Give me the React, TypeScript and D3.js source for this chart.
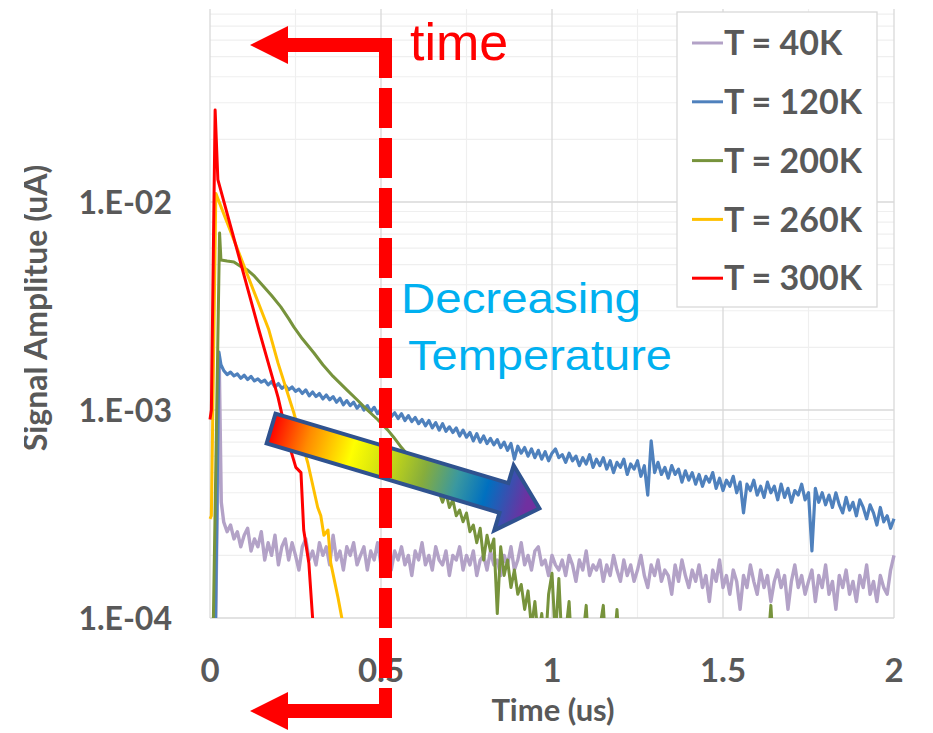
import React, { useEffect, useRef } from "react";
import * as d3 from "d3";

// all amplitudes below are in units of 1e-4 uA
const UNIT = 1e-4;

const seriesNames = ["T = 40K", "T = 120K", "T = 200K", "T = 260K", "T = 300K"];
const seriesColors = ["#b3a2c7", "#4f81bd", "#77933c", "#ffc000", "#ff0000"];

const xTicks = [0, 0.5, 1, 1.5, 2];
const xTickLabels = ["0", "0.5", "1", "1.5", "2"];
const yTicks = [1e-4, 1e-3, 1e-2];
const yTickLabels = ["1.E-04", "1.E-03", "1.E-02"];

// 40K / 120K: turn-on points, then samples every 0.01 us starting at 0.04 us
const sampleStart = 0.04;
const sampleStep = 0.01;

const t40Head = [0, 0.015, 0.027, 0.033];
const v40Head = [0.5, 0.6, 17, 3.6];
const v40 = [
  2.9, 2.6, 2.8, 2.4, 2.6, 2.2, 2.5, 2.7, 2.1, 2.4,
  2.2, 2.6, 1.9, 2.3, 2.0, 2.5, 1.8, 2.2, 2.4, 1.9,
  2.3, 2.0, 1.7, 2.2, 2.4, 1.9, 2.1, 1.8, 2.3, 2.0,
  2.2, 1.8, 2.5, 1.9, 2.1, 1.7, 2.2, 2.0, 2.3, 1.8,
  2.0, 2.2, 1.7, 2.1, 1.9, 2.3, 1.8, 2.0, 2.2, 1.7,
  2.1, 1.9, 2.2, 1.8, 2.0, 1.6, 2.1, 1.9, 2.3, 1.8,
  2.0, 1.7, 2.2, 1.9, 1.8, 2.1, 1.6, 2.0, 1.9, 2.2,
  1.7, 2.0, 1.8, 2.1, 1.6, 1.9, 2.0, 1.7, 2.1, 1.8,
  1.9, 1.6, 2.0, 1.8, 2.2, 1.7, 1.9, 2.3, 1.8, 2.0,
  1.7, 2.1, 2.2, 1.8, 1.9, 1.6, 2.0, 1.8, 1.7, 1.9,
  1.6, 2.0, 1.8, 1.5, 1.9, 1.7, 2.1, 1.6, 1.8, 1.7,
  1.9, 1.5, 1.8, 1.6, 2.0, 1.7, 1.5, 1.9, 1.6, 1.8,
  1.5, 1.7, 2.0, 1.6, 1.4, 1.8, 1.6, 1.9, 1.5, 1.7,
  1.6, 1.3, 1.8, 1.5, 1.9, 1.6, 1.4, 1.7, 1.5, 1.8,
  1.4, 1.6, 1.2, 1.7, 1.5, 1.9, 1.4, 1.6, 1.3, 1.7,
  1.5, 1.1, 1.6, 1.4, 1.8, 1.5, 1.3, 1.7, 1.4, 1.6,
  1.2, 1.5, 1.7, 1.4, 1.6, 1.1, 1.5, 1.8, 1.4, 1.6,
  1.3, 1.5, 1.7, 1.2, 1.6, 1.4, 1.8, 1.3, 1.5, 1.1,
  1.6, 1.4, 1.7, 1.3, 1.5, 1.2, 1.6, 1.4, 1.8, 1.3,
  1.5, 1.2, 1.6, 1.4, 1.3, 1.7, 2.0,
];

const t120Head = [0, 0.015, 0.026, 0.032];
const v120Head = [0.5, 0.7, 19, 16.5];
const v120 = [
  15.5, 14.8, 15.2, 14.6, 14.9, 14.2, 14.7, 14.0, 14.5, 13.8,
  14.1, 13.6, 13.9, 13.2, 13.7, 12.9, 13.4, 12.7, 13.1, 12.5,
  12.9, 12.3, 12.6, 12.0, 12.5, 11.7, 12.2, 11.6, 12.0, 11.3,
  11.8, 11.2, 11.6, 10.9, 11.4, 10.6, 11.1, 10.5, 10.9, 10.2,
  10.7, 10.0, 10.5, 9.8, 10.3, 9.6, 10.1, 9.5, 9.9, 9.3,
  9.7, 9.1, 9.6, 8.9, 9.4, 8.8, 9.2, 8.6, 9.0, 8.4,
  8.9, 8.2, 8.7, 8.0, 8.6, 7.9, 8.3, 7.8, 8.2, 7.5,
  8.0, 7.4, 7.8, 7.1, 7.7, 7.0, 7.5, 6.9, 7.3, 6.8,
  7.2, 6.6, 7.0, 6.4, 6.9, 5.8, 6.7, 6.2, 6.6, 6.0,
  6.5, 5.9, 6.4, 5.8, 6.3, 5.7, 6.2, 6.5, 5.9, 6.1,
  5.6, 6.2, 5.7, 6.0, 5.4, 5.9, 5.5, 6.1, 5.3, 5.8,
  5.4, 5.9, 5.2, 5.7, 5.0, 5.6, 5.3, 5.8, 4.9, 5.5,
  5.2, 5.7, 4.8, 5.4, 3.9, 7.1, 5.0, 5.6, 4.9, 5.3,
  4.7, 5.4, 4.9, 5.2, 4.5, 5.1, 4.6, 5.0, 4.4, 4.9,
  4.3, 4.8, 4.5, 5.0, 4.2, 4.7, 4.1, 4.6, 4.3, 4.8,
  4.0, 4.5, 3.2, 4.4, 4.1, 4.6, 3.9, 4.3, 3.8, 4.5,
  4.0, 4.3, 3.7, 4.4, 3.8, 4.2, 3.6, 4.1, 3.9, 4.4,
  3.7, 4.0, 2.1, 4.2, 3.6, 4.0, 3.5, 3.9, 3.4, 4.0,
  3.5, 3.2, 3.8, 3.3, 3.6, 3.1, 3.7, 3.4, 3.0, 3.5,
  3.2, 2.8, 3.4, 2.9, 3.1, 2.7, 3.0,
];

const t200 = [
  0, 0.006, 0.028, 0.032, 0.05, 0.07, 0.09, 0.11, 0.13, 0.158,
  0.18, 0.207, 0.23, 0.245, 0.27, 0.304, 0.33, 0.36, 0.4, 0.43,
  0.46, 0.49, 0.52, 0.537, 0.56, 0.6, 0.64, 0.67,
  0.68, 0.69, 0.7, 0.71, 0.72, 0.73, 0.74, 0.75, 0.76, 0.77,
  0.78, 0.79, 0.8, 0.81, 0.82, 0.83, 0.84, 0.85, 0.86, 0.87,
  0.88, 0.89, 0.9, 0.91, 0.92, 0.93, 0.94, 0.95, 0.96, 0.97,
  0.98, 0.99, 1.0, 1.01, 1.02, 1.03, 1.04, 1.05, 1.06, 1.07,
  1.08, 1.09, 1.1, 1.11, 1.12, 1.13, 1.14, 1.15, 1.16, 1.17,
  1.18, 1.19, 1.2,
  1.25, 1.35, 1.45, 1.55, 1.63, 1.64, 1.65, 1.8, 2.0,
];
const v200 = [
  0.3, 0.4, 71, 52.6, 52, 51.5, 49, 47.1, 44, 39,
  35.5, 31.3, 27.5, 25.1, 22, 18.8, 16.5, 14.5, 12.5, 11.2,
  10.0, 9.0, 8.0, 7.4, 6.6, 5.5, 4.6, 4.0,
  3.6, 4.0, 3.4, 3.7, 3.1, 3.3, 2.9, 3.2, 2.6, 2.8,
  2.3, 2.7, 1.9, 2.5, 2.1, 2.4, 1.05, 2.2, 1.6, 1.9,
  1.4, 1.7, 1.3, 1.45, 1.1, 1.35, 0.9, 1.2, 0.8, 1.05,
  0.7, 1.3, 1.64, 0.8, 1.55, 0.7, 0.85, 1.2, 0.6, 0.9,
  0.7, 0.8, 1.15, 0.6, 0.85, 0.7, 0.9, 1.15, 0.6, 0.8,
  0.7, 1.1, 0.6,
  0.65, 0.6, 0.65, 0.6, 0.7, 1.15, 0.6, 0.55, 0.5,
];

const t260 = [0, 0.004, 0.017, 0.172, 0.199, 0.245, 0.286, 0.315, 0.324, 0.333, 0.345, 0.353, 0.374, 0.388, 0.4];
const v260 = [3.0, 3.1, 110, 24.3, 16.8, 9.7, 5.56, 3.4, 3.1, 2.5, 2.65, 1.84, 1.26, 0.95, 0.8];

const t300 = [0, 0.004, 0.015, 0.023, 0.029, 0.143, 0.199, 0.228, 0.251, 0.266, 0.274, 0.289, 0.3, 0.31];
const v300 = [9.0, 10, 277, 128, 118, 24.3, 11.5, 7.1, 5.3, 5.0, 2.65, 1.84, 1.0, 0.7];

const FONT = "Lato, 'Open Sans', sans-serif";
const TEXT = "#595959";

function tail(head: number[], headV: number[], vals: number[]): [number, number][] {
  const pts: [number, number][] = head.map((t, i) => [t, headV[i]]);
  vals.forEach((v, i) => pts.push([sampleStart + i * sampleStep, v]));
  return pts;
}
function pairs(ts: number[], vs: number[]): [number, number][] {
  return ts.map((t, i) => [t, vs[i]]);
}

export default function App() {
  const ref = useRef<SVGSVGElement>(null);

  useEffect(() => {
    const svg = d3.select(ref.current);
    svg.selectAll("*").remove();

    const plot = { left: 210, right: 894, top: 9, bottom: 618 };
    const x = d3.scaleLinear().domain([0, 2]).range([plot.left, plot.right]);
    const y = d3.scaleLog().domain([1e-4, 1e-2]).range([plot.bottom, 202]);

    const defs = svg.append("defs");
    defs.append("clipPath").attr("id", "plotClip")
      .append("rect").attr("x", plot.left - 6).attr("y", plot.top)
      .attr("width", plot.right - plot.left + 8).attr("height", plot.bottom - plot.top);
    defs.append("clipPath").attr("id", "titleClip")
      .append("rect").attr("x", 24).attr("y", 0).attr("width", 100).attr("height", 733);

    const grad = defs.append("linearGradient").attr("id", "tempGrad")
      .attr("x1", 0).attr("x2", 1).attr("y1", 0).attr("y2", 0);
    [
      [0, "#ff0000"], [0.14, "#ff8c00"], [0.3, "#ffff00"], [0.45, "#c3d617"],
      [0.57, "#86ad3c"], [0.69, "#3a98a0"], [0.8, "#0070c0"], [0.95, "#7030a0"],
    ].forEach(([o, c]) => grad.append("stop").attr("offset", o as number).attr("stop-color", c as string));

    // grid
    const grid = svg.append("g");
    d3.range(0, 2.001, 0.25).filter((t) => !xTicks.includes(t)).forEach((t) => {
      grid.append("line").attr("x1", x(t)).attr("x2", x(t)).attr("y1", plot.top).attr("y2", plot.bottom)
        .attr("stroke", "#efefef").attr("stroke-width", 1.2);
    });
    [1e-4, 1e-3, 1e-2, 1e-1].forEach((dec) => {
      d3.range(2, 10).forEach((m) => {
        const yy = y(m * dec);
        if (yy >= plot.top && yy <= plot.bottom) {
          grid.append("line").attr("x1", plot.left).attr("x2", plot.right).attr("y1", yy).attr("y2", yy)
            .attr("stroke", "#efefef").attr("stroke-width", 1.2);
        }
      });
    });
    xTicks.forEach((t) => {
      grid.append("line").attr("x1", x(t)).attr("x2", x(t)).attr("y1", plot.top).attr("y2", plot.bottom)
        .attr("stroke", "#d9d9d9").attr("stroke-width", 1.3);
    });
    yTicks.forEach((v) => {
      grid.append("line").attr("x1", plot.left).attr("x2", plot.right).attr("y1", y(v)).attr("y2", y(v))
        .attr("stroke", "#d9d9d9").attr("stroke-width", 1.3);
    });

    // tick labels
    yTicks.forEach((v, i) => {
      svg.append("text").attr("x", 172).attr("y", y(v)).attr("dy", "0.36em")
        .attr("text-anchor", "end").attr("font-family", FONT).attr("font-weight", 700)
        .attr("font-size", 32).attr("fill", TEXT).text(yTickLabels[i]);
    });
    xTicks.forEach((t, i) => {
      svg.append("text").attr("x", x(t)).attr("y", 682)
        .attr("text-anchor", "middle").attr("font-family", FONT).attr("font-weight", 700)
        .attr("font-size", 33).attr("fill", TEXT).text(xTickLabels[i]);
    });
    svg.append("text").attr("x", 553).attr("y", 721)
      .attr("text-anchor", "middle").attr("font-family", FONT).attr("font-weight", 700)
      .attr("font-size", 31).attr("fill", TEXT).text("Time (us)");
    svg.append("g").attr("clip-path", "url(#titleClip)")
      .append("text").attr("transform", `translate(47,${308}) rotate(-90)`)
      .attr("text-anchor", "middle").attr("font-family", FONT).attr("font-weight", 700)
      .attr("font-size", 32).attr("fill", TEXT).text("Signal Amplitue (uA)");

    // series
    const data = [
      tail(t40Head, v40Head, v40),
      tail(t120Head, v120Head, v120),
      pairs(t200, v200),
      pairs(t260, v260),
      pairs(t300, v300),
    ];
    const widths = [3.4, 3.2, 3, 3, 3];
    const line = d3.line<[number, number]>().x((d) => x(d[0])).y((d) => y(d[1] * UNIT));
    const series = svg.append("g").attr("clip-path", "url(#plotClip)");
    data.forEach((pts, i) => {
      series.append("path").attr("d", line(pts)).attr("fill", "none")
        .attr("stroke", seriesColors[i]).attr("stroke-width", widths[i])
        .attr("stroke-linejoin", "round").attr("stroke-linecap", "butt");
    });

    // legend
    const lg = svg.append("g");
    lg.append("rect").attr("x", 677).attr("y", 12).attr("width", 200).attr("height", 295)
      .attr("fill", "#fff").attr("stroke", "#d9d9d9").attr("stroke-width", 1.3);
    seriesNames.forEach((name, i) => {
      const yy = 43 + i * 58.8;
      lg.append("line").attr("x1", 692).attr("x2", 723).attr("y1", yy).attr("y2", yy)
        .attr("stroke", seriesColors[i]).attr("stroke-width", 3);
      lg.append("text").attr("x", 724).attr("y", yy).attr("dy", "0.36em")
        .attr("font-family", FONT).attr("font-weight", 700).attr("font-size", 34)
        .attr("fill", TEXT).text(name);
    });

    // temperature arrow
    const arrow = svg.append("g").attr("transform", `translate(${x(0.18) - 0.5},${428.5}) rotate(16.6)`);
    arrow.append("polygon")
      .attr("points", [[0, -15.5], [243, -15.5], [243, -34], [280, 0], [243, 34], [243, 15.5], [0, 15.5]]
        .map((p) => p.join(",")).join(" "))
      .attr("fill", "url(#tempGrad)").attr("stroke", "#2f528f").attr("stroke-width", 4)
      .attr("stroke-linejoin", "miter");

    svg.append("text").attr("transform", "translate(401,313) scale(1.13,1)")
      .attr("font-family", "'Liberation Sans', Arial, sans-serif").attr("font-size", 42)
      .attr("fill", "#00b0f0").text("Decreasing");
    svg.append("text").attr("transform", "translate(408,370) scale(1.12,1)")
      .attr("font-family", "'Liberation Sans', Arial, sans-serif").attr("font-size", 42)
      .attr("fill", "#00b0f0").text("Temperature");

    // time bracket
    const dashX = x(0.5) + 4.5;
    const red = "#ff0000";
    const br = svg.append("g");
    br.append("line").attr("x1", dashX).attr("x2", dashX).attr("y1", 38).attr("y2", 718)
      .attr("stroke", red).attr("stroke-width", 13).attr("stroke-dasharray", "40 10");
    [45, 711].forEach((yy) => {
      br.append("rect").attr("x", 286).attr("y", yy - 7).attr("width", dashX + 6.5 - 286).attr("height", 14)
        .attr("fill", red);
      br.append("polygon").attr("points", `250,${yy} 288,${yy - 19} 288,${yy + 19}`).attr("fill", red);
    });
    svg.append("text").attr("x", 410).attr("y", 60)
      .attr("font-family", "'Liberation Sans', Arial, sans-serif").attr("font-size", 52)
      .attr("fill", red).text("time");
  }, []);

  return <svg ref={ref} width={933} height={733} style={{ position: "absolute", left: 0, top: 0, background: "#fff" }} />;
}
